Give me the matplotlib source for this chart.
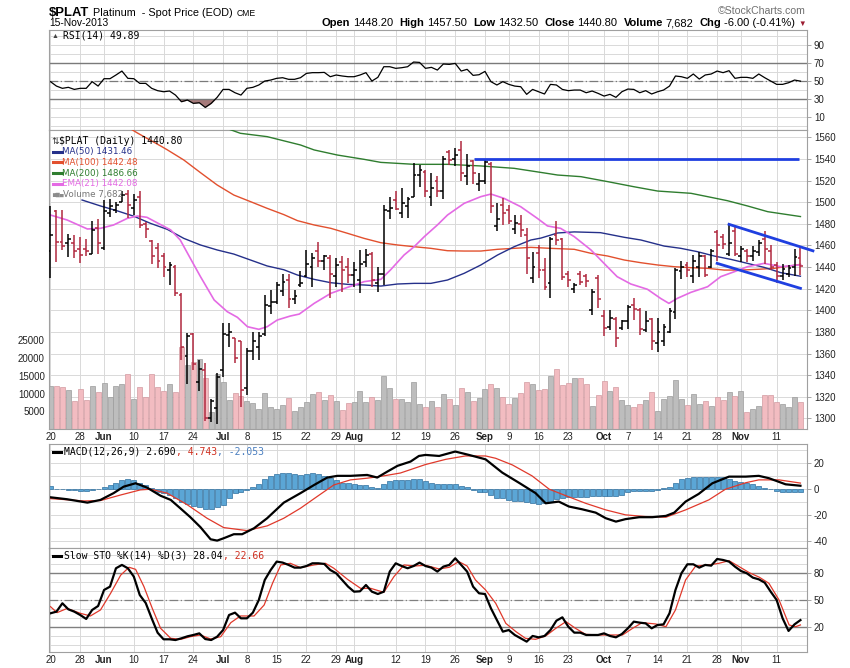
import matplotlib
matplotlib.use("Agg")
import matplotlib.pyplot as plt
import numpy as np

W, H = 850, 668
plt.rcParams['font.family'] = ['Liberation Sans', 'DejaVu Sans']
plt.rcParams['axes.unicode_minus'] = False

# ---------------- data: $PLAT daily, 20-May-2013 .. 15-Nov-2013 ----------------
date_ticks = [0, 5, 9, 14, 19, 24, 29, 33, 38, 43, 48, 51, 58, 63, 68, 73, 77, 82, 87, 93, 97, 102, 107, 112, 116, 122]
date_labels = ['20', '28', 'Jun', '10', '17', '24', 'Jul', '8', '15', '22', '29', 'Aug', '12', '19', '26',
               'Sep', '9', '16', '23', 'Oct', '7', '14', '21', '28', 'Nov', '11']
months = ['Jun', 'Jul', 'Aug', 'Sep', 'Oct', 'Nov']

opens = [1455, 1492, 1463, 1462, 1462, 1457, 1457, 1452, 1476, 1458,
         1490, 1493, 1500, 1508, 1495, 1505, 1480, 1464, 1458, 1450,
         1437, 1440, 1414, 1358, 1378, 1334, 1345, 1300, 1310, 1345,
         1377, 1374, 1372, 1328, 1362, 1366, 1378, 1404, 1408, 1418,
         1428, 1410, 1423, 1432, 1440, 1455, 1446, 1448, 1432, 1445,
         1440, 1433, 1428, 1445, 1452, 1425, 1434, 1492, 1502, 1490,
         1496, 1505, 1525, 1528, 1505, 1520, 1510, 1546, 1540, 1548,
         1524, 1538, 1517, 1520, 1535, 1478, 1497, 1493, 1475, 1480,
         1470, 1430, 1453, 1437, 1425, 1470, 1466, 1434, 1420, 1434,
         1432, 1400, 1430, 1395, 1385, 1392, 1384, 1390, 1405, 1400,
         1382, 1392, 1370, 1372, 1380, 1398, 1436, 1442, 1432, 1440,
         1450, 1440, 1472, 1468, 1452, 1473, 1450, 1455, 1450, 1454,
         1466, 1455, 1442, 1432, 1434, 1440, 1448.2]
highs = [1496, 1493, 1493, 1471, 1470, 1468, 1466, 1483, 1484, 1502,
         1503, 1500, 1510, 1511, 1508, 1510, 1482, 1465, 1462, 1453,
         1445, 1442, 1416, 1379, 1379, 1354, 1351, 1318, 1342, 1388,
         1388, 1374, 1372, 1365, 1380, 1380, 1414, 1419, 1426, 1434,
         1434, 1419, 1436, 1456, 1453, 1463, 1451, 1451, 1448, 1450,
         1448, 1445, 1456, 1457, 1454, 1440, 1497, 1505, 1510, 1513,
         1505, 1536, 1534, 1530, 1527, 1524, 1543, 1548, 1550, 1557,
         1545, 1539, 1527, 1539, 1537, 1499, 1504, 1497, 1488, 1488,
         1476, 1454, 1460, 1448, 1468, 1483, 1467, 1436, 1425, 1436,
         1434, 1420, 1433, 1400, 1400, 1394, 1391, 1405, 1411, 1402,
         1399, 1393, 1393, 1387, 1402, 1439, 1446, 1445, 1451, 1454,
         1451, 1457, 1474, 1471, 1480, 1477, 1459, 1457, 1459, 1465,
         1473, 1460, 1445, 1443, 1442, 1457, 1457.5]
lows = [1430, 1445, 1456, 1449, 1448, 1444, 1450, 1452, 1452, 1456,
        1486, 1490, 1500, 1485, 1488, 1476, 1467, 1443, 1439, 1431,
        1423, 1413, 1354, 1332, 1345, 1325, 1298, 1297, 1295, 1338,
        1366, 1351, 1311, 1322, 1354, 1354, 1376, 1397, 1406, 1413,
        1402, 1406, 1422, 1431, 1422, 1440, 1437, 1411, 1422, 1417,
        1425, 1422, 1416, 1440, 1422, 1417, 1423, 1484, 1493, 1485,
        1485, 1505, 1514, 1505, 1496, 1505, 1503, 1534, 1533, 1520,
        1516, 1517, 1510, 1517, 1490, 1473, 1479, 1480, 1471, 1468,
        1434, 1425, 1430, 1419, 1411, 1460, 1428, 1422, 1416, 1423,
        1422, 1396, 1402, 1376, 1382, 1366, 1382, 1383, 1391, 1377,
        1380, 1363, 1361, 1367, 1379, 1392, 1429, 1431, 1425, 1431,
        1431, 1439, 1446, 1457, 1450, 1450, 1445, 1445, 1446, 1450,
        1443, 1437, 1425, 1428, 1431, 1432, 1432.5]
closes = [1470, 1463, 1459, 1466, 1455, 1451, 1455, 1474, 1462, 1492,
          1496, 1497, 1507, 1497, 1502, 1479, 1475, 1450, 1446, 1440,
          1442, 1416, 1366, 1376, 1350, 1346, 1300, 1316, 1338, 1378,
          1380, 1356, 1326, 1362, 1372, 1376, 1405, 1408, 1423, 1426,
          1410, 1413, 1425, 1443, 1448, 1446, 1450, 1434, 1442, 1437,
          1433, 1437, 1443, 1451, 1428, 1434, 1493, 1495, 1494, 1499,
          1503, 1525, 1530, 1510, 1513, 1510, 1540, 1539, 1544, 1527,
          1533, 1527, 1520, 1537, 1496, 1484, 1490, 1483, 1481, 1474,
          1448, 1440, 1437, 1422, 1466, 1465, 1431, 1428, 1423, 1426,
          1427, 1417, 1410, 1384, 1393, 1374, 1390, 1403, 1401, 1383,
          1390, 1372, 1380, 1385, 1399, 1437, 1440, 1437, 1446, 1450,
          1433, 1455, 1460, 1461, 1462, 1452, 1457, 1450, 1455, 1462,
          1457, 1440, 1432, 1438, 1439, 1449, 1440.8]
volume_k = [12.1, 12.1, 12.0, 11.0, 7.9, 11.3, 8.2, 12.1, 10.5, 12.9,
            9.1, 12.1, 12.7, 15.4, 8.6, 11.9, 9.0, 15.4, 12.0, 10.7,
            12.7, 10.5, 23.2, 18.1, 19.0, 19.8, 14.5, 4.9, 15.5, 13.4,
            8.2, 10.1, 9.4, 7.9, 7.3, 5.6, 10.1, 6.1, 5.6, 6.8,
            8.8, 5.1, 6.3, 7.5, 9.9, 10.5, 8.2, 9.5, 7.9, 5.4,
            7.3, 7.5, 10.7, 7.6, 8.9, 8.2, 15.0, 11.5, 8.4, 8.6,
            7.5, 13.2, 7.1, 6.3, 7.9, 6.3, 9.8, 8.4, 6.8, 11.5,
            10.5, 7.9, 8.7, 11.3, 12.6, 11.7, 9.1, 7.1, 8.7, 10.1,
            13.2, 12.6, 11.0, 11.2, 15.0, 17.0, 12.4, 12.9, 14.3, 14.3,
            12.6, 6.5, 9.6, 13.7, 10.7, 11.8, 8.2, 6.8, 6.3, 7.1,
            8.2, 10.4, 5.1, 8.5, 9.4, 13.8, 8.6, 6.8, 9.9, 7.1,
            7.9, 6.6, 8.9, 8.2, 10.4, 9.3, 10.7, 4.9, 5.6, 6.5,
            9.6, 9.6, 7.5, 7.0, 6.1, 8.9, 7.682]

# moving averages (bar index, value)
ma50_x = [5.3, 8.4, 11.2, 14.0, 16.8, 19.6, 22.4, 25.2, 28.0, 30.8, 33.6, 36.4, 39.2, 41.5, 44.3, 47.1, 49.9,
          52.7, 55.5, 58.3, 61.1, 63.9, 66.7, 69.5, 72.3, 75.1, 77.9, 80.7, 82.4, 85.2, 88.0, 92.4, 96.4,
          99.2, 103.1, 105.9, 108.7, 111.5, 114.3, 117.1, 119.9, 122.7, 126.0]
ma50_v = [1502, 1496.5, 1492, 1487, 1480.4, 1474.9, 1466.5, 1460.4, 1455.8, 1452, 1446.5, 1441, 1437.5,
          1432.6, 1428.6, 1425.5, 1424, 1423.4, 1422.4, 1424.3, 1424.9, 1424.9, 1428, 1434.2, 1441.9, 1451.1,
          1458.8, 1465, 1466.8, 1471.5, 1472.5, 1471.8, 1467.5, 1465, 1459.4, 1457.3, 1454.2, 1450.2, 1447.1,
          1443.4, 1439.7, 1434.8, 1431.5]
ma100_x = [13.7, 14.6, 18.5, 19.6, 22.4, 25.2, 28.0, 30.8, 33.6, 36.4, 39.2, 41.5, 44.3, 47.1, 49.9, 52.7,
           55.5, 58.3, 61.1, 63.9, 66.7, 69.5, 72.3, 75.1, 77.9, 80.7, 84.0, 88.0, 90.8, 93.6, 96.4, 99.2,
           102.0, 104.8, 107.6, 110.4, 113.2, 116.0, 118.8, 121.6, 126.0]
ma100_v = [1567, 1564, 1552, 1548.5, 1539, 1527.3, 1515.9, 1506.6, 1500.5, 1494.3, 1488.5, 1482.9, 1478.9,
           1475.8, 1471.2, 1466.5, 1462.5, 1460.4, 1458.8, 1457.3, 1455.1, 1454.8, 1454.8, 1456.4, 1457.3,
           1458.2, 1457.3, 1456.4, 1452.7, 1450.2, 1446.5, 1444, 1441.9, 1440.3, 1439.4, 1438.8, 1437.2,
           1437.2, 1437.9, 1438.8, 1442.5]
ma200_x = [30.0, 31.9, 36.4, 42.0, 44.3, 48.2, 52.7, 55.5, 61.1, 66.7, 72.3, 77.9, 83.0, 85.2, 89.1, 93.6,
           98.0, 102.0, 107.6, 110.4, 113.7, 117.1, 120.5, 126.0]
ma200_v = [1567.5, 1563.7, 1560.6, 1552.9, 1548.3, 1543.6, 1539.6, 1536.8, 1535, 1535, 1533.5, 1531.3,
           1527, 1525.1, 1523.6, 1519, 1514.3, 1510.3, 1508.2, 1505.1, 1501.4, 1496.5, 1491.2, 1486.7]
ema21_x = [0, 2.8, 6.2, 8.4, 10.6, 12.9, 14.6, 16.2, 17.9, 20.2, 21.8, 23.5, 25.2, 27.5, 29.7, 31.4, 33.1,
           35.0, 36.4, 38.1, 40.3, 41.8, 44.3, 47.1, 49.9, 52.7, 55.5, 57.1, 59.4, 61.1, 62.8, 65.0, 66.7,
           69.5, 72.3, 74.0, 76.2, 79.0, 81.8, 83.5, 85.7, 88.0, 90.8, 93.0, 95.2, 97.5, 100.3, 102.5, 103.9,
           105.3, 107.6, 110.4, 112.6, 114.9, 117.1, 119.9, 122.7, 126.0]
ema21_v = [1488.1, 1483.5, 1475.2, 1475.8, 1478.9, 1485, 1487.2, 1486, 1481, 1474.3, 1465, 1448, 1431.1,
           1409.5, 1398.7, 1393.5, 1384.8, 1382.4, 1384.8, 1391, 1394.7, 1396.5, 1406.4, 1415.7, 1421.2,
           1426.5, 1428.6, 1437.2, 1451.1, 1458.8, 1468.1, 1478.9, 1488.1, 1498.9, 1505.1, 1507.5, 1503.5,
           1495.8, 1485, 1478, 1475.8, 1468.1, 1455.8, 1443.4, 1431.1, 1424.3, 1419.4, 1411, 1406.4, 1411,
           1416.6, 1421.8, 1431.1, 1435.7, 1440.3, 1443.4, 1440.3, 1442.1]

# hand-drawn trend lines
resist_x = [71.1, 125.8]
resist_y = [1539.5, 1539.5]
chan_up_x = [114.0, 128.1]
chan_up_y = [1479.5, 1455.0]
chan_dn_x = [112.0, 126.0]
chan_dn_y = [1443.4, 1420.3]

rsi = [49.3, 44.4, 41.9, 43.0, 40.7, 41.9, 41.9, 49.3, 44.4, 52.6,
       52.6, 56.7, 61.1, 53.0, 52.6, 47.4, 47.4, 41.9, 39.3, 38.1,
       38.9, 34.4, 27.0, 28.9, 25.2, 25.9, 20.7, 25.2, 31.9, 40.7,
       40.7, 37.0, 34.4, 41.9, 43.0, 45.6, 50.0, 51.1, 53.0, 53.7,
       51.9, 51.9, 53.7, 58.5, 59.3, 59.3, 59.6, 54.8, 56.7, 55.6,
       54.8, 54.8, 56.7, 59.3, 50.0, 54.1, 65.9, 65.9, 64.1, 64.8,
       65.9, 71.1, 70.7, 64.1, 65.2, 62.2, 68.9, 68.5, 69.6, 61.1,
       63.0, 56.3, 57.0, 60.7, 49.3, 45.6, 49.3, 46.3, 44.4, 43.7,
       35.2, 40.7, 38.1, 35.6, 46.3, 45.6, 40.7, 39.3, 40.0, 40.0,
       37.0, 38.9, 36.3, 33.3, 35.2, 31.9, 38.1, 41.1, 40.7, 37.0,
       39.3, 35.6, 38.1, 40.0, 44.4, 55.6, 54.8, 53.0, 57.8, 52.2,
       56.7, 57.8, 61.1, 59.3, 61.5, 53.0, 54.1, 54.1, 53.0, 57.8,
       53.7, 50.0, 46.3, 46.3, 48.1, 51.1, 49.89]

macd_x = [0, 2.8, 6.2, 8.4, 10.6, 12.3, 14.3, 16.2, 18.5, 20.2, 21.8, 23.5, 25.2, 26.9, 28, 29.1, 30.8,
          32.2, 34.2, 36.4, 39.2, 42, 44.3, 46.5, 48.2, 50.4, 53.2, 54.9, 56.6, 58.3, 60.5, 61.9, 63, 65.3,
          68, 70.3, 73.1, 75.9, 78.7, 81.5, 83.2, 85.4, 87.1, 89.3, 91.6, 93.3, 95, 96.6, 98.9, 101.1,
          103.4, 104.8, 106.7, 108.9, 111.2, 114, 116.8, 119, 120.7, 123.5, 126]
macd_v = [-6.2, -7.7, -10.3, -8.2, -3, 2, 4.6, 1.3, -5, -8.2, -14.6, -21.5, -29.2, -38.5, -39.5, -37.7,
          -34.6, -34.6, -30, -22.3, -10.3, -3, 3.3, 9, 10.3, 10.3, 11, 9, 13.6, 18, 21.3, 25.6, 26.4, 25.6,
          29, 26.4, 23, 12.8, 5, -3, -10.8, -9.5, -13.3, -15.4, -18, -22.3, -24.9, -23, -21.5, -21.5,
          -20.5, -18, -9.5, -3.6, 4.6, 9.7, 9.7, 10.3, 8.5, 3.8, 2.69]
signal_x = [0, 5.6, 8.4, 11.8, 15.1, 16.8, 19.6, 23, 26.3, 29.1, 33, 36.4, 39.2, 42, 44.8, 47.6, 50.4,
            53.2, 56, 58.8, 63, 66.4, 69.7, 73.1, 74.8, 77.6, 80.9, 83.8, 86.6, 89.9, 93.3, 96.6, 99.9,
            103.4, 106.7, 110.6, 113.4, 116.8, 119, 122.4, 126]
signal_v = [-7.2, -9, -8.7, -4.4, -0.5, 0, -3, -12, -22.3, -29.5, -31.8, -28.2, -22.3, -14.6, -5.6, 3.3,
            7.2, 8.5, 10.3, 12.5, 19, 23, 25.6, 25.6, 23.8, 18.7, 10.3, 0, -5, -10.8, -15.9, -19.7, -21,
            -21.5, -15.9, -8.2, 0, 5, 7.2, 7.2, 4.74]
macd_hist = [2.5, 0.5, 0.0, -0.5, -0.5, -1.0, -1.0, -0.5, 0.5, 1.5,
             3.0, 5.0, 7.0, 7.7, 7.0, 5.0, 3.0, 1.0, -1.8, -3.0,
             -4.4, -7.0, -9.5, -11.0, -12.8, -13.3, -15.4, -15.4, -13.3, -12.0,
             -7.0, -3.0, -1.8, -0.5, 1.5, 3.8, 7.7, 10.0, 11.8, 12.3,
             12.3, 11.8, 11.0, 11.8, 12.3, 11.8, 10.3, 8.5, 7.0, 5.0,
             4.6, 3.8, 3.3, 3.3, 1.5, 0.8, 3.8, 6.7, 7.0, 7.0,
             7.0, 7.7, 7.7, 6.5, 4.6, 3.8, 3.8, 3.8, 3.8, 2.5,
             1.5, -0.5, -1.8, -1.8, -4.4, -7.0, -7.0, -8.2, -9.0, -9.0,
             -9.5, -10.8, -11.3, -10.8, -9.5, -7.7, -7.0, -6.2, -6.2, -6.2,
             -6.2, -5.0, -5.0, -5.0, -5.0, -5.0, -4.4, -2.3, -1.0, -1.0,
             -1.0, -1.0, -0.5, 0.8, 2.0, 5.0, 7.7, 9.0, 9.7, 9.7,
             9.2, 9.7, 9.7, 9.2, 7.7, 6.7, 5.4, 4.6, 3.8, 2.6,
             1.3, 0.5, -1.0, -1.8, -2.0, -1.8, -2.053]

sto_k = [35.6, 37.4, 46.7, 40.0, 37.4, 33.7, 29.3, 39.3, 43.7, 61.5,
         65.2, 85.6, 89.3, 85.6, 76.3, 55.9, 47.0, 30.0, 14.0, 6.7,
         6.7, 5.9, 7.8, 10.0, 11.5, 13.3, 7.0, 5.9, 9.6, 17.0,
         33.7, 36.3, 30.0, 30.0, 36.3, 50.4, 72.6, 83.7, 93.0, 91.9,
         89.3, 86.3, 86.3, 88.1, 91.1, 91.1, 90.4, 83.7, 80.0, 72.6,
         65.2, 59.6, 60.0, 67.0, 59.6, 57.0, 59.6, 81.9, 91.1, 88.1,
         85.6, 88.1, 91.9, 88.1, 86.3, 81.9, 87.4, 89.3, 96.7, 89.3,
         81.9, 65.2, 57.8, 57.0, 41.1, 28.1, 15.2, 17.0, 11.5, 7.8,
         4.1, 10.4, 8.9, 10.4, 17.0, 27.4, 31.1, 20.7, 14.1, 14.1,
         11.5, 11.5, 11.5, 13.3, 10.4, 8.9, 12.6, 18.9, 26.3, 25.2,
         24.4, 18.9, 22.6, 23.3, 35.6, 61.5, 80.0, 90.0, 90.0, 86.3,
         89.3, 88.5, 95.9, 94.8, 93.0, 87.4, 82.6, 80.0, 75.2, 73.3,
         69.6, 59.6, 50.4, 30.0, 16.0, 23.3, 28.04]
sto_d_x = [0, 1.1, 2.8, 5.0, 6.7, 8.4, 10.1, 11.8, 13.2, 14.3, 15.7, 17.1, 18.5, 20.2, 21.9, 23.5, 25.2,
           26.9, 28.6, 30.3, 31.9, 34.2, 35.9, 37.3, 38.7, 40.3, 42.0, 44.3, 46.2, 47.6, 49.9, 52.1, 53.8,
           56.0, 57.7, 59.4, 61.1, 63.0, 65.3, 67.0, 68.6, 70.0, 71.4, 73.1, 74.8, 76.5, 78.2, 79.8, 81.5,
           83.2, 84.9, 86.6, 88.2, 89.9, 92.2, 94.4, 96.1, 97.8, 99.4, 101.7, 103.4, 105.0, 106.7, 108.4,
           110.6, 112.3, 114.0, 115.7, 117.4, 119.1, 120.7, 122.4, 124.1, 125.2, 126]
sto_d_v = [43, 36.3, 41, 35.6, 32.6, 39.3, 57.8, 78, 86.7, 84.4, 65.2, 41.1, 18.9, 7.8, 6.7, 9.6, 11.5,
           7, 9.6, 25.2, 32.6, 32.6, 44.8, 68.9, 89.3, 91.1, 86.3, 89.3, 91.1, 85.6, 73.3, 63.3, 63.3,
           58.9, 76.3, 89.3, 88.1, 88.9, 84.8, 86.7, 93, 88.1, 72.6, 61.5, 46.7, 24.4, 15.2, 7.8, 6.7,
           10.4, 18.9, 26.3, 18.9, 12.2, 11.5, 11.5, 11.5, 18.9, 25.2, 23.7, 20.7, 39.3, 72.6, 88.1,
           89.3, 91.1, 94, 87.4, 80.7, 75.6, 68.9, 50.4, 22.6, 20.7, 22.66]

# ---------------- styling ----------------
GRID = '#d9d9d9'
FRAME = '#a0a0a0'
RED = '#b0283f'
PINK, PINK_EDGE = '#f2bcc1', '#d29aa1'
GRAY, GRAY_EDGE = '#bdbdbd', '#9c9c9c'
BLUE_LINE = '#1f3fe0'
MONO = ['DejaVu Sans Mono']
L_PX, R_PX = 49, 807
XLIM = (-0.25, 127.1)
PMIN, PMAX = 1290.2, 1566.75
VMAX = 84460


def fx(px):
    return px / W


def fy(py):
    return 1 - py / H


fig = plt.figure(figsize=(W / 100, H / 100), dpi=100)
fig.patch.set_facecolor('white')


def panel(top, bottom, **kw):
    return fig.add_axes([fx(L_PX), fy(bottom), fx(R_PX) - fx(L_PX), (bottom - top) / H], **kw)


def frame(ax, show=True):
    for s in ax.spines.values():
        s.set_visible(show)
        s.set_color(FRAME)
        s.set_linewidth(0.8)


def x_style(ax, labels=False):
    ax.set_xlim(*XLIM)
    ax.set_xticks(date_ticks)
    if labels:
        ax.set_xticklabels(date_labels)
        for t in ax.get_xticklabels():
            if t.get_text() in months:
                t.set_fontweight('bold')
    else:
        ax.set_xticklabels([])
    ax.tick_params(axis='x', length=0, pad=2, labelsize=7, labelcolor='#222222')
    ax.xaxis.grid(True, color=GRID, lw=0.7)
    ax.set_axisbelow(True)


def y_right(ax, ticks, minor=None):
    ax.yaxis.tick_right()
    ax.set_yticks(ticks)
    if minor is not None:
        ax.set_yticks(minor, minor=True)
    ax.tick_params(axis='y', which='major', length=3, width=0.6, color='#999999',
                   labelsize=7, pad=2, labelcolor='#222222')
    ax.tick_params(axis='y', which='minor', length=0)
    ax.yaxis.grid(True, which='both', color=GRID, lw=0.7)


idx = np.arange(len(closes))
o = np.array(opens)
c = np.array(closes)
down = c < o
bar_col = [RED if d else 'black' for d in down]

# ---------------- RSI panel ----------------
ax_rsi = panel(30, 130)
ax_rsi.set_ylim(-4.4, 106.7)
x_style(ax_rsi)
y_right(ax_rsi, [10, 30, 50, 70, 90], [0, 20, 40, 60, 80, 100])
r = np.array(rsi)
ax_rsi.fill_between(idx, r, 30, where=r < 30, interpolate=True, color='#a67a7a', lw=0)
ax_rsi.fill_between(idx, r, 70, where=r > 70, interpolate=True, color='#a67a7a', lw=0)
for lvl in (30, 70):
    ax_rsi.axhline(lvl, color='#7a7a7a', lw=1.0)
ax_rsi.axhline(50, color='#7a7a7a', lw=0.9, ls=(0, (7, 2, 1, 2)))
ax_rsi.plot(idx, r, color='black', lw=0.9)
frame(ax_rsi)

# ---------------- price + volume panel ----------------
ax_vol = panel(130, 429)
ax_vol.set_ylim(0, VMAX)
x_style(ax_vol, labels=True)
for p in range(1300, 1561, 20):
    ax_vol.axhline(VMAX * (p - PMIN) / (PMAX - PMIN), color=GRID, lw=0.7, zorder=0)
ax_vol.bar(idx, np.array(volume_k) * 1000, width=0.84,
           color=[PINK if d else GRAY for d in down],
           edgecolor=[PINK_EDGE if d else GRAY_EDGE for d in down], lw=0.5, zorder=2)
ax_vol.set_yticks([5000, 10000, 15000, 20000, 25000])
ax_vol.set_yticklabels(['5000', '10000', '15000', '20000', '25000'])
ax_vol.tick_params(axis='y', length=0, labelsize=7, pad=3, labelcolor='#222222')
frame(ax_vol)

ax_px = panel(130, 429, facecolor='none')
ax_px.set_xlim(*XLIM)
ax_px.set_ylim(PMIN, PMAX)
ax_px.set_xticks([])
y_right(ax_px, list(range(1300, 1561, 20)))
ax_px.yaxis.grid(False)
frame(ax_px, show=False)

ax_px.plot(ma200_x, ma200_v, color='#2f7d2f', lw=1.0)
ax_px.plot(ma100_x, ma100_v, color='#e2502e', lw=1.0)
ax_px.plot(ma50_x, ma50_v, color='#25308a', lw=1.0)
ax_px.plot(ema21_x, ema21_v, color='#e46ae4', lw=1.2)

ax_px.vlines(idx, lows, highs, colors=bar_col, lw=1.1)
ax_px.hlines(opens, idx - 0.48, idx, colors=bar_col, lw=1.1)
ax_px.hlines(closes, idx, idx + 0.48, colors=bar_col, lw=1.1)

ax_px.plot(resist_x, resist_y, color=BLUE_LINE, lw=2.0, solid_capstyle='butt')
ax_px.plot(chan_up_x, chan_up_y, color=BLUE_LINE, lw=2.0, clip_on=False)
ax_px.plot(chan_dn_x, chan_dn_y, color=BLUE_LINE, lw=2.0)

# ---------------- MACD panel ----------------
ax_macd = panel(444, 548)
ax_macd.set_ylim(-45.2, 34.8)
x_style(ax_macd)
y_right(ax_macd, [-40, -20, 0, 20], [-30, -10, 10, 30])
ax_macd.bar(idx, macd_hist, width=0.84, color='#5ba6d6', edgecolor='#2f6f9e', lw=0.5)
ax_macd.plot(signal_x, signal_v, color='#e0392b', lw=0.9)
ax_macd.plot(macd_x, macd_v, color='black', lw=1.6)
frame(ax_macd)

# ---------------- Slow stochastics panel ----------------
ax_sto = panel(548, 652)
ax_sto.set_ylim(-7.4, 108.1)
x_style(ax_sto, labels=True)
y_right(ax_sto, [20, 50, 80], [0, 10, 30, 40, 60, 70, 90, 100])
for lvl in (20, 80):
    ax_sto.axhline(lvl, color='#808080', lw=1.0)
ax_sto.axhline(50, color='#808080', lw=0.9, ls=(0, (7, 2, 1, 2)))
ax_sto.plot(sto_d_x, sto_d_v, color='#e0392b', lw=0.9)
ax_sto.plot(idx, sto_k, color='black', lw=1.6)
frame(ax_sto)

# ---------------- texts ----------------
renderer = fig.canvas.get_renderer()


def seq_text(x_px, y_px, parts, align='left', va='center'):
    """parts: (text, kwargs, gap after in px); placed side by side."""
    made = []
    for s, kw, gap in parts:
        t = fig.text(0, fy(y_px), s, va=va, ha='left', **kw)
        made.append((t, t.get_window_extent(renderer).width + gap))
    total = sum(w for _, w in made)
    x = x_px - total if align == 'right' else x_px
    for t, w in made:
        t.set_x(fx(x))
        x += w


seq_text(49, 15.5, [('$PLAT', dict(fontsize=9.4, fontweight='bold'), 4),
                    ('Platinum  - Spot Price (EOD)', dict(fontsize=7.8), 4),
                    ('CME', dict(fontsize=6.2), 0)], va='baseline')
fig.text(fx(49), fy(23), '15-Nov-2013', fontsize=7.4, va='center')
fig.text(fx(806), fy(11), '\u00a9StockCharts.com', fontsize=7.6, color='#707070', ha='right', va='center')

B = dict(fontsize=8.0, fontweight='bold')
N = dict(fontsize=8.0)
seq_text(806, 26, [('Open', B, 3), ('1448.20', N, 6), ('High', B, 3), ('1457.50', N, 6),
                   ('Low', B, 3), ('1432.50', N, 6), ('Close', B, 3), ('1440.80', N, 6),
                   ('Volume', B, 3), ('7,682', N, 6), ('Chg', B, 3), ('-6.00 (-0.41%)', N, 3),
                   ('\u25bc', dict(fontsize=5.5, color='#9b1b30'), 0)], align='right', va='baseline')

# panel labels
fig.text(fx(52), fy(36), '\u25b2', fontsize=5, color='#444444', va='center')
fig.text(fx(63), fy(36), 'RSI(14) 49.89', fontsize=7, family=MONO, va='center')

fig.text(fx(51), fy(141), '\u21c5', fontsize=6.5, color='#333333', va='center')
fig.text(fx(59), fy(141), '$PLAT (Daily) 1440.80', fontsize=7, family=MONO, va='center')
legend_rows = [('MA(50) 1431.46', '#25308a'), ('MA(100) 1442.48', '#e2502e'),
               ('MA(200) 1486.66', '#2f7d2f'), ('EMA(21) 1442.08', '#e46ae4')]
for k, (lab, col) in enumerate(legend_rows):
    yy = 151.7 + 10.7 * k
    fig.add_artist(plt.Line2D([fx(52.5), fx(61.5)], [fy(yy), fy(yy)], color=col, lw=2.2))
    fig.text(fx(62), fy(yy), lab, fontsize=6.3, family=['DejaVu Sans'], color=col, va='center')
fig.text(fx(52), fy(194.5), '\u2586\u2587\u2585', fontsize=3.6, color='#8c8c8c', va='center',
         family=['DejaVu Sans'])
fig.text(fx(63), fy(194.5), 'Volume 7,682', fontsize=6.3, family=['DejaVu Sans'], color='#777777',
         va='center')

fig.add_artist(plt.Line2D([fx(52.5), fx(61)], [fy(451.7), fy(451.7)], color='black', lw=2.2))
seq_text(64, 451.7, [('MACD(12,26,9) 2.690', dict(fontsize=7, family=MONO), 0),
                     (', 4.743', dict(fontsize=7, family=MONO, color='#d03020'), 0),
                     (', -2.053', dict(fontsize=7, family=MONO, color='#4a7fc0'), 0)])
fig.add_artist(plt.Line2D([fx(52.5), fx(61)], [fy(555.7), fy(555.7)], color='black', lw=2.2))
seq_text(64, 555.7, [('Slow STO %K(14) %D(3) 28.04', dict(fontsize=7, family=MONO), 0),
                     (', 22.66', dict(fontsize=7, family=MONO, color='#d03020'), 0)])

fig.savefig('out.png', dpi=100, facecolor='white')
